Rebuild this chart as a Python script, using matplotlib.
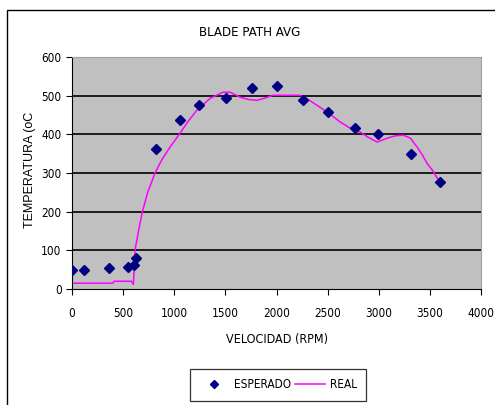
import matplotlib.pyplot as plt
from matplotlib.patches import Rectangle

# datos
esperado_x = [0, 120, 360, 545, 605, 630, 820, 1057, 1245, 1507, 1760, 2005, 2260, 2505, 2770, 2995, 3317, 3600]
esperado_y = [50, 50, 54, 57, 62, 80, 362, 437, 475, 493, 521, 524, 490, 457, 416, 400, 349, 277]

real_x = [0, 400, 410, 580, 600, 610, 616, 650, 685, 740, 812, 880, 959, 1057, 1140, 1223, 1350,
          1477, 1546, 1644, 1730, 1810, 1890, 1967, 2100, 2231, 2310, 2397, 2510, 2622, 2750,
          2818, 2900, 2984, 3082, 3160, 3239, 3310, 3376, 3430, 3473, 3530, 3571, 3600]
real_y = [15, 15, 20, 20, 12, 60, 100, 150, 196, 250, 300, 335, 367, 403, 435, 463, 493,
          509, 509, 496, 490, 488, 494, 501, 501, 501, 490, 475, 455, 432, 411,
          406, 392, 380, 390, 396, 398, 390, 367, 345, 325, 305, 287, 278]

yticks = [0, 100, 200, 300, 400, 500, 600]
xticks = [0, 500, 1000, 1500, 2000, 2500, 3000, 3500, 4000]

plt.rcParams['font.family'] = ['DejaVu Sans']
plt.rcParams['font.stretch'] = 'condensed'

fig = plt.figure(figsize=(4.95, 4.05), dpi=100)
ax = fig.add_axes([72/495, 1-289/405, 409/495, 232/405])
ax.set_facecolor('#C0C0C0')

for v in yticks[1:-1]:
    ax.axhline(v, color='black', lw=1.2, zorder=1)

ax.plot(real_x, real_y, color='#FF00FF', lw=1.1, label='REAL', zorder=2)
ax.plot(esperado_x, esperado_y, linestyle='none', marker='D', markersize=5.5,
        color='#000080', label='ESPERADO', zorder=3)

ax.set_xlim(0, 4000)
ax.set_ylim(0, 600)
ax.set_xticks(xticks)
ax.set_yticks(yticks)
ax.tick_params(labelsize=8.5, length=4, width=0.8, colors='black', direction='out')
ax.tick_params(axis='x', pad=9)
for s in ['top', 'right']:
    ax.spines[s].set_color('#A0A0A0')
for s in ['left', 'bottom']:
    ax.spines[s].set_color('black')

fig.text(250/495, 1-32/405, 'BLADE PATH AVG', ha='center', va='center', fontsize=9.5)
fig.text(277/495, 1-340/405, 'VELOCIDAD (RPM)', ha='center', va='center', fontsize=9)
fig.text(30/495, 1-170/405, 'TEMPERATURA (oC', ha='center', va='center', rotation=90,
         fontsize=9, family=['Liberation Sans'], fontstretch='normal')

h, l = ax.get_legend_handles_labels()
leg = fig.legend([h[1], h[0]], [l[1], l[0]], loc='center', bbox_to_anchor=(278/495, 1-385/405),
                 ncol=2, fontsize=8.5, frameon=True, fancybox=False, edgecolor='black',
                 handlelength=2.5, columnspacing=0.4, handletextpad=0.4, borderpad=0.8,
                 markerscale=0.8)
leg.get_frame().set_linewidth(0.9)

fig.add_artist(Rectangle((7/495, -0.1), 1.2, 1-10/405+0.1, transform=fig.transFigure,
                         fill=False, edgecolor='black', lw=1.0))

fig.savefig('out.png', dpi=100)
